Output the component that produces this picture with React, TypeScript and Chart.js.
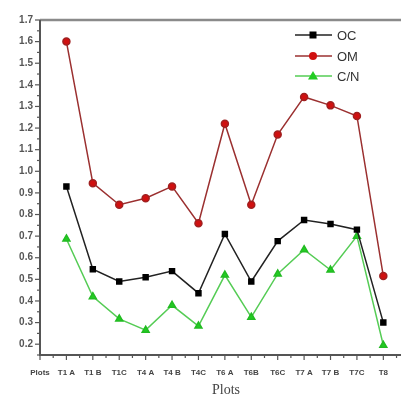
import React, { useEffect, useRef } from "react";
import { Chart, registerables } from "chart.js";

Chart.register(...registerables);

const categories = ["Plots", "T1 A", "T1 B", "T1C", "T4 A", "T4 B", "T4C", "T6 A", "T6B", "T6C", "T7 A", "T7 B", "T7C", "T8"];
const ocValues = [null, 0.93, 0.547, 0.49, 0.51, 0.538, 0.436, 0.71, 0.49, 0.677, 0.775, 0.756, 0.73, 0.30];
const omValues = [null, 1.60, 0.945, 0.845, 0.875, 0.93, 0.76, 1.22, 0.845, 1.17, 1.344, 1.305, 1.256, 0.515];
const cnValues = [null, 0.687, 0.42, 0.317, 0.265, 0.38, 0.284, 0.52, 0.325, 0.525, 0.637, 0.543, 0.70, 0.195];
const yTicks = [0.2, 0.3, 0.4, 0.5, 0.6, 0.7, 0.8, 0.9, 1.0, 1.1, 1.2, 1.3, 1.4, 1.5, 1.6, 1.7];

const W = 401;
const H = 403;

const decorPlugin = {
  id: "decor",
  afterDraw(chart: any) {
    const ctx = chart.ctx;
    const ca = chart.chartArea;
    const ys = chart.scales.y;
    const xs = chart.scales.x;
    ctx.save();
    // top border
    ctx.strokeStyle = "#8a8a8a";
    ctx.lineWidth = 2.5;
    ctx.beginPath();
    ctx.moveTo(ca.left, ca.top);
    ctx.lineTo(W, ca.top);
    ctx.stroke();
    // left + bottom axes
    ctx.strokeStyle = "#555";
    ctx.lineWidth = 2;
    ctx.beginPath();
    ctx.moveTo(ca.left, ca.top);
    ctx.lineTo(ca.left, ca.bottom);
    ctx.lineTo(W, ca.bottom);
    ctx.stroke();
    // y ticks
    ctx.lineWidth = 1.2;
    for (let i = 0; i <= 31; i++) {
      const v = 0.15 + i * 0.05;
      if (v > 1.701) break;
      const major = i % 2 === 1;
      const py = ys.getPixelForValue(v);
      ctx.beginPath();
      ctx.moveTo(ca.left, py);
      ctx.lineTo(ca.left - (major ? 5 : 3), py);
      ctx.stroke();
    }
    // x ticks
    const step = xs.getPixelForValue(1) - xs.getPixelForValue(0);
    for (let i = 0; i <= 28; i++) {
      const px = xs.getPixelForValue(0) + (i * step) / 2;
      if (px > W) break;
      ctx.beginPath();
      ctx.moveTo(px, ca.bottom);
      ctx.lineTo(px, ca.bottom + (i % 2 === 0 ? 5 : 3));
      ctx.stroke();
    }
    // legend
    const items = [
      { label: "OC", line: "#222", fill: "#000", style: "rect", y: 35 },
      { label: "OM", line: "#9b3030", fill: "#d01010", style: "circle", y: 56 },
      { label: "C/N", line: "#55cc55", fill: "#22cc22", style: "triangle", y: 76 },
    ];
    ctx.font = "13px 'Liberation Sans', Arial, sans-serif";
    ctx.textBaseline = "middle";
    ctx.textAlign = "left";
    for (const it of items) {
      ctx.strokeStyle = it.line;
      ctx.lineWidth = 1.5;
      ctx.beginPath();
      ctx.moveTo(295, it.y);
      ctx.lineTo(332, it.y);
      ctx.stroke();
      ctx.fillStyle = it.fill;
      ctx.beginPath();
      if (it.style === "rect") {
        ctx.rect(313 - 3.5, it.y - 3.5, 7, 7);
      } else if (it.style === "circle") {
        ctx.arc(313, it.y, 4, 0, Math.PI * 2);
      } else {
        ctx.moveTo(313, it.y - 5);
        ctx.lineTo(318, it.y + 3.5);
        ctx.lineTo(308, it.y + 3.5);
        ctx.closePath();
      }
      ctx.fill();
      ctx.fillStyle = "#333";
      ctx.fillText(it.label, 337, it.y + 1);
    }
    // x title
    ctx.font = "14px 'Liberation Serif', 'Times New Roman', serif";
    ctx.fillStyle = "#444";
    ctx.textAlign = "center";
    ctx.fillText("Plots", 226, 390);
    ctx.restore();
  },
};

export default function App() {
  const ref = useRef<HTMLCanvasElement>(null);
  useEffect(() => {
    document.body.style.margin = "0";
    const chart = new Chart(ref.current!, {
      type: "line",
      data: {
        labels: categories,
        datasets: [
          {
            label: "OM",
            data: omValues,
            borderColor: "#9b3030",
            borderWidth: 1.5,
            backgroundColor: "#d01010",
            pointBackgroundColor: "#d01010",
            pointBorderColor: "#a02020",
            pointStyle: "circle",
            pointRadius: 3.5,
            spanGaps: true,
          },
          {
            label: "OC",
            data: ocValues,
            borderColor: "#222",
            borderWidth: 1.5,
            backgroundColor: "#000",
            pointBackgroundColor: "#000",
            pointBorderColor: "#000",
            pointStyle: "rect",
            pointRadius: 3.5,
            spanGaps: true,
          },
          {
            label: "C/N",
            data: cnValues,
            borderColor: "#55cc55",
            borderWidth: 1.5,
            backgroundColor: "#22cc22",
            pointBackgroundColor: "#22cc22",
            pointBorderColor: "#22bb22",
            pointStyle: "triangle",
            pointRadius: 4,
            spanGaps: true,
          },
        ],
      },
      options: {
        animation: false,
        responsive: false,
        maintainAspectRatio: false,
        layout: { padding: { top: 20, right: 16, left: 0, bottom: 0 } },
        plugins: { legend: { display: false }, tooltip: { enabled: false } },
        scales: {
          x: {
            type: "category",
            offset: false,
            grid: { display: false, drawTicks: false },
            border: { display: false },
            ticks: {
              autoSkip: false,
              maxRotation: 0,
              padding: 13,
              color: "#444",
              font: { size: 8, weight: "bold", family: "'Liberation Sans', Arial, sans-serif" },
            },
            afterFit: (s: any) => {
              s.height = 48;
            },
          },
          y: {
            min: 0.15,
            max: 1.7,
            grid: { display: false, drawTicks: false },
            border: { display: false },
            afterBuildTicks: (s: any) => {
              s.ticks = yTicks.map((v) => ({ value: v }));
            },
            ticks: {
              padding: 7,
              color: "#555",
              font: { size: 10, weight: "bold", family: "'Liberation Sans', Arial, sans-serif" },
              callback: (v: any) => Number(v).toFixed(1),
            },
            afterFit: (s: any) => {
              s.width = 40;
            },
          },
        },
      },
      plugins: [decorPlugin],
    });
    return () => chart.destroy();
  }, []);
  return (
    <div style={{ position: "absolute", left: 0, top: 0, width: W, height: H, background: "#fff" }}>
      <canvas ref={ref} width={W} height={H} style={{ width: W, height: H, display: "block" }} />
    </div>
  );
}
